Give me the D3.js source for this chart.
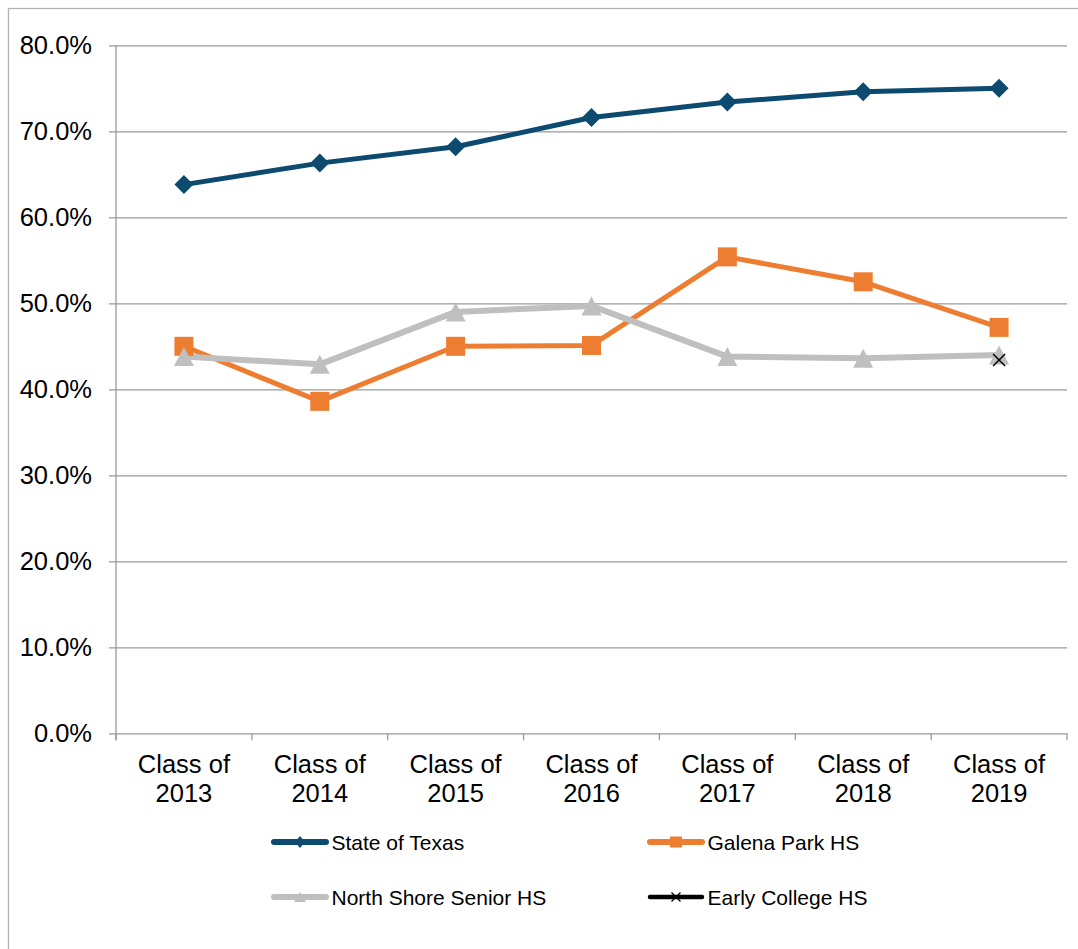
<!DOCTYPE html>
<html>
<head>
<meta charset="utf-8">
<script src="https://cdn.jsdelivr.net/npm/d3@7"></script>
<style>
  html, body { margin: 0; padding: 0; background: #fff; }
  svg { display: block; font-family: "Liberation Sans", Arial, sans-serif; }
</style>
</head>
<body>
<svg id="chart" width="1078" height="949"></svg>
<script>
// Graduation-class categories and tick values
const categories = ["2013", "2014", "2015", "2016", "2017", "2018", "2019"];
const yTicks = [0, 0.1, 0.2, 0.3, 0.4, 0.5, 0.6, 0.7, 0.8];

// Series values (share, 0–1); null where a school has no value
const stateOfTexas   = [0.638, 0.663, 0.682, 0.716, 0.734, 0.746, 0.750];
const galenaPark     = [0.450, 0.386, 0.450, 0.451, 0.554, 0.525, 0.472];
const northShore     = [0.438, 0.429, 0.490, 0.497, 0.438, 0.436, 0.440];
const earlyCollege   = [null, null, null, null, null, null, 0.434];

const seriesNames = ["State of Texas", "Galena Park HS", "North Shore Senior HS", "Early College HS"];

const series = [
  { name: seriesNames[0], values: stateOfTexas, color: "#0d4a6f", width: 5,   marker: "diamond" },
  { name: seriesNames[1], values: galenaPark,   color: "#ed7d31", width: 5,   marker: "square" },
  { name: seriesNames[2], values: northShore,   color: "#bfbfbf", width: 6,   marker: "triangle" },
  { name: seriesNames[3], values: earlyCollege, color: "#000000", width: 2,   marker: "x" }
];

const svg = d3.select("#chart");

// Outer chart frame
svg.append("rect")
  .attr("x", 8.5).attr("y", 8.5)
  .attr("width", 1090).attr("height", 960)
  .attr("fill", "none").attr("stroke", "#b3b3b3").attr("stroke-width", 1.3);

const plot = { left: 116, right: 1067, top: 45.3, bottom: 733.3 };

const x = d3.scaleBand().domain(categories).range([plot.left, plot.right]).padding(0);
const y = d3.scaleLinear().domain([0, 0.8]).range([plot.bottom, plot.top]);

// Horizontal gridlines with left ticks and labels
const yAxis = d3.axisLeft(y)
  .tickValues(yTicks)
  .tickFormat(d3.format(".1%"))
  .tickSize(-(plot.right - plot.left))
  .tickPadding(24);

const gy = svg.append("g")
  .attr("transform", `translate(${plot.left},0)`)
  .call(yAxis);
gy.select(".domain").remove();
gy.selectAll(".tick line")
  .attr("x1", -7)
  .attr("stroke", "#9a9a9a").attr("stroke-width", 1.3);
gy.selectAll(".tick text")
  .attr("font-size", 25.5).attr("fill", "#000")
  .attr("font-family", "Liberation Sans, Arial, sans-serif")
  .attr("x", -24);

// Vertical axis line
svg.append("line")
  .attr("x1", plot.left).attr("x2", plot.left)
  .attr("y1", plot.top).attr("y2", plot.bottom + 7)
  .attr("stroke", "#9a9a9a").attr("stroke-width", 1.3);

// Category tick marks between bands
const boundaries = categories.map(c => x(c)).concat([x(categories[categories.length - 1]) + x.bandwidth()]);
svg.append("g").selectAll("line")
  .data(boundaries)
  .join("line")
  .attr("x1", d => d).attr("x2", d => d)
  .attr("y1", plot.bottom).attr("y2", plot.bottom + 7)
  .attr("stroke", "#9a9a9a").attr("stroke-width", 1.3);

// Category labels on two lines
const xl = svg.append("g").selectAll("text")
  .data(categories)
  .join("text")
  .attr("text-anchor", "middle")
  .attr("font-size", 25.5)
  .attr("fill", "#000");
xl.append("tspan")
  .attr("x", d => x(d) + x.bandwidth() / 2)
  .attr("y", plot.bottom + 40)
  .text("Class of");
xl.append("tspan")
  .attr("x", d => x(d) + x.bandwidth() / 2)
  .attr("y", plot.bottom + 69)
  .text(d => d);

// Marker shapes, centred on the origin
function markerPath(type, w, h) {
  const a = w / 2, b = (h == null ? w : h) / 2;
  switch (type) {
    case "diamond":  return `M0,${-b}L${a},0L0,${b}L${-a},0Z`;
    case "square":   return `M${-a},${-b}H${a}V${b}H${-a}Z`;
    case "triangle": return `M0,${-b}L${a},${b}L${-a},${b}Z`;
    case "x":        return `M${-a},${-b}L${a},${b}M${a},${-b}L${-a},${b}`;
  }
}
const markerSize = { diamond: [19, 19], square: [19, 19], triangle: [20, 19], x: [12, 12] };

const cx = (d, i) => x(categories[i]) + x.bandwidth() / 2;
const line = d3.line()
  .defined(d => d != null)
  .x((d, i) => cx(d, i))
  .y(d => y(d));

// Series lines
svg.append("g").selectAll("path")
  .data(series)
  .join("path")
  .attr("d", s => line(s.values))
  .attr("fill", "none")
  .attr("stroke", s => s.color)
  .attr("stroke-width", s => s.width)
  .attr("stroke-linejoin", "round");

// Series markers
series.forEach(s => {
  svg.append("g").selectAll("path")
    .data(s.values.map((v, i) => ({ v, i })).filter(d => d.v != null))
    .join("path")
    .attr("transform", d => `translate(${cx(d.v, d.i)},${y(d.v)})`)
    .attr("d", markerPath(s.marker, ...markerSize[s.marker]))
    .attr("fill", s.marker === "x" ? "none" : s.color)
    .attr("stroke", s.marker === "x" ? s.color : "none")
    .attr("stroke-width", 1.5);
});

// Legend in a 2 x 2 grid
const legendPos = [
  { x: 272, y: 842 }, { x: 648, y: 842 },
  { x: 272, y: 897 }, { x: 648, y: 897 }
];
const legendMarker = { diamond: [10, 12], square: [12, 11], triangle: [12, 10], x: [9, 9] };
const lg = svg.append("g").selectAll("g")
  .data(series)
  .join("g")
  .attr("transform", (d, i) => `translate(${legendPos[i].x},${legendPos[i].y})`);
lg.append("line")
  .attr("x1", 2).attr("x2", 54)
  .attr("stroke", d => d.color)
  .attr("stroke-width", d => d.marker === "x" ? 4.5 : 6)
  .attr("stroke-linecap", "round");
lg.append("path")
  .attr("transform", "translate(28,0)")
  .attr("d", d => markerPath(d.marker, ...legendMarker[d.marker]))
  .attr("fill", d => d.marker === "x" ? "none" : d.color)
  .attr("stroke", d => d.marker === "x" ? d.color : "none")
  .attr("stroke-width", 1.3);
lg.append("text")
  .attr("x", 59.5).attr("y", 7.5)
  .attr("font-size", 21)
  .attr("fill", "#000")
  .text(d => d.name);
</script>
</body>
</html>
